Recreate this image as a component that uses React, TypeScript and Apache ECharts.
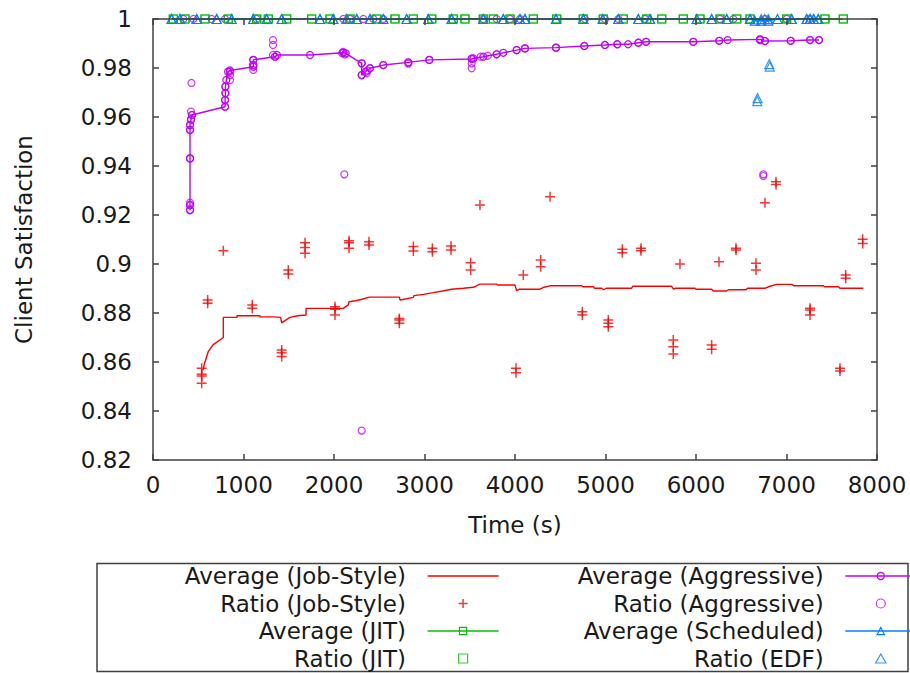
import React, { useEffect, useRef } from 'react';
import * as echarts from 'echarts';

const RED = '#ff0000';
const GREEN = '#00c000';
const PURPLE = '#c000ff';
const BLUE = '#0080ff';
const AXIS = '#404040';
const TEXT = '#1a1a1a';
const FONT = 'DejaVu Sans';
const FS = 23;

const X_MIN = 0;
const X_MAX = 8000;
const X_STEP = 1000;
const Y_MIN = 0.82;
const Y_MAX = 1;
const Y_STEP = 0.02;

const X_NAME = 'Time (s)';
const Y_NAME = 'Client Satisfaction';

const SERIES_NAMES = [
  'Average (Job-Style)',
  'Ratio (Job-Style)',
  'Average (JIT)',
  'Ratio (JIT)',
  'Average (Aggressive)',
  'Ratio (Aggressive)',
  'Average (Scheduled)',
  'Ratio (EDF)',
];

const avgJobStyle: [number, number][] = [
  [552, 0.8567], [570, 0.8595], [610, 0.8642], [663, 0.867], [777, 0.87], [777, 0.8782],
  [928, 0.8782], [928, 0.8789], [1182, 0.8789], [1182, 0.8784], [1330, 0.8784], [1330, 0.8782],
  [1410, 0.8782], [1422, 0.876], [1450, 0.8767], [1514, 0.8782], [1600, 0.8789], [1691, 0.8792],
  [1691, 0.8819], [2103, 0.8819], [2158, 0.8833], [2166, 0.8846], [2240, 0.885], [2320, 0.8857],
  [2391, 0.8865], [2722, 0.8865], [2730, 0.8853], [2790, 0.8857], [2877, 0.8864], [2884, 0.8871],
  [2990, 0.8876], [3097, 0.8883], [3200, 0.889], [3300, 0.8897], [3430, 0.8901], [3540, 0.8905],
  [3613, 0.8918], [3797, 0.8918], [3810, 0.8914], [4000, 0.8914], [4018, 0.8891], [4050, 0.8897],
  [4276, 0.8897], [4310, 0.8904], [4387, 0.8911], [4737, 0.8911], [4750, 0.8907], [4865, 0.8907],
  [4880, 0.8901], [4957, 0.8901], [4980, 0.8895], [5010, 0.8901], [5289, 0.8901], [5300, 0.8909],
  [5731, 0.8909], [5750, 0.8898], [5775, 0.8901], [5989, 0.8901], [6000, 0.8897], [6173, 0.8897],
  [6190, 0.889], [6339, 0.889], [6360, 0.8895], [6553, 0.8895], [6570, 0.8901], [6762, 0.8901],
  [6800, 0.8907], [6891, 0.8917], [7060, 0.8917], [7080, 0.8911], [7407, 0.8911], [7420, 0.8907],
  [7575, 0.8907], [7590, 0.8901], [7849, 0.8901],
];

const ratioJobStyle: [number, number][] = [
  [538, 0.8574], [538, 0.855], [538, 0.8543], [538, 0.8513],
  [604, 0.8853], [604, 0.884],
  [777, 0.9054],
  [1097, 0.8833], [1097, 0.8819],
  [1422, 0.8649], [1422, 0.8638], [1422, 0.8622],
  [1495, 0.8976], [1495, 0.8959],
  [1680, 0.9087], [1680, 0.9067], [1680, 0.9044],
  [2011, 0.8826], [2011, 0.8815], [2011, 0.8792],
  [2166, 0.9095], [2166, 0.9087], [2166, 0.9064],
  [2387, 0.9091], [2387, 0.9078],
  [2722, 0.8778], [2722, 0.8771], [2722, 0.8758],
  [2877, 0.9071], [2877, 0.9053],
  [3087, 0.9064], [3087, 0.905],
  [3293, 0.9073], [3293, 0.9057],
  [3510, 0.9005], [3510, 0.8976],
  [3613, 0.9241],
  [4011, 0.8574], [4011, 0.8556],
  [4092, 0.8955],
  [4387, 0.9275],
  [4284, 0.9016], [4284, 0.8989],
  [4744, 0.8805], [4744, 0.8792],
  [5031, 0.8771], [5031, 0.8758], [5031, 0.8744],
  [5186, 0.906], [5186, 0.9046],
  [5392, 0.9064], [5392, 0.9054],
  [5749, 0.869], [5749, 0.8662], [5749, 0.8633],
  [5823, 0.9],
  [6173, 0.8669], [6173, 0.8652],
  [6254, 0.9009],
  [6442, 0.9064], [6442, 0.9057],
  [6663, 0.9003], [6663, 0.8976],
  [6762, 0.925],
  [6884, 0.9336], [6884, 0.9325],
  [7260, 0.8819], [7260, 0.8812], [7260, 0.8792],
  [7591, 0.8574], [7591, 0.8563],
  [7654, 0.8955], [7654, 0.8942],
  [7842, 0.9101], [7842, 0.9084],
];

const avgJIT: [number, number][] = [
  [225, 1], [354, 1], [575, 1], [832, 1], [1146, 1], [1274, 1], [1477, 1], [1753, 1], [1956, 1],
  [2177, 1], [2472, 1], [2674, 1], [2877, 1], [3080, 1], [3318, 1], [3447, 1], [3650, 1], [3761, 1],
  [3945, 1], [4203, 1], [4461, 1], [4755, 1], [4976, 1], [5197, 1], [5455, 1], [5621, 1], [5860, 1],
  [6044, 1], [6265, 1], [6450, 1], [6597, 1], [7002, 1], [7425, 1], [7628, 1],
];

const ratioJIT: [number, number][] = [
  [225, 1], [354, 1], [575, 1], [832, 1], [1146, 1], [1274, 1], [1477, 1], [1753, 1], [1956, 1],
  [2177, 1], [2472, 1], [2674, 1], [2877, 1], [3080, 1], [3318, 1], [3447, 1], [3650, 1], [3761, 1],
  [3945, 1], [4203, 1], [4461, 1], [4755, 1], [4976, 1], [5197, 1], [5455, 1], [5621, 1], [5860, 1],
  [6044, 1], [6265, 1], [6450, 1], [6597, 1], [7002, 1], [7425, 1], [7628, 1],
];

const avgAggressive: [number, number][] = [
  [409, 0.922], [409, 0.9241], [409, 0.9431], [409, 0.9547], [409, 0.9567], [420, 0.959], [430, 0.9608],
  [796, 0.9642], [796, 0.9669], [800, 0.9697], [800, 0.9724], [810, 0.9751], [830, 0.9785], [851, 0.979],
  [1108, 0.9805], [1108, 0.9812], [1108, 0.9833], [1348, 0.9846], [1370, 0.9853], [1735, 0.9853],
  [2103, 0.9862], [2130, 0.986], [2306, 0.9819], [2306, 0.9771], [2350, 0.9785], [2398, 0.9799],
  [2545, 0.9812], [2821, 0.9823], [3053, 0.9833], [3521, 0.9837], [3540, 0.9839], [3650, 0.9846],
  [3797, 0.9856], [3870, 0.9862], [4018, 0.9873], [4110, 0.988], [4453, 0.9883], [4766, 0.989],
  [4994, 0.9894], [5130, 0.9897], [5250, 0.9897], [5363, 0.9903], [5448, 0.9907], [5970, 0.9907],
  [6257, 0.9911], [6350, 0.9914], [6707, 0.9917], [6762, 0.991], [7046, 0.9911], [7260, 0.9914],
  [7359, 0.9914],
];

const ratioAggressive: [number, number][] = [
  [409, 0.922], [409, 0.9241], [409, 0.925], [409, 0.9431], [409, 0.9547], [409, 0.9567], [420, 0.959],
  [430, 0.9608], [420, 0.9622], [425, 0.9739],
  [796, 0.9642], [796, 0.9669], [800, 0.9697], [800, 0.9724], [851, 0.9751], [851, 0.9771], [851, 0.9785],
  [1108, 0.9792], [1108, 0.9812], [1108, 0.9833], [1326, 0.9914], [1326, 0.9894], [1326, 0.9853],
  [1348, 0.9846], [2090, 0.986], [2100, 0.9866], [2120, 0.9855], [2114, 0.9366],
  [2306, 0.9819], [2306, 0.9771], [2306, 0.832], [2360, 0.9779], [2370, 0.979], [2398, 0.9799],
  [2545, 0.9812], [2821, 0.9823], [2821, 0.9818], [3053, 0.9833], [3521, 0.9839], [3521, 0.9819],
  [3521, 0.9799], [3620, 0.9846], [3700, 0.985], [3797, 0.9856], [4018, 0.9873], [4110, 0.988],
  [4453, 0.9883], [4766, 0.989], [4994, 0.9894], [5130, 0.9897], [5363, 0.9903], [5448, 0.9907],
  [5970, 0.9907], [6257, 0.9911], [6707, 0.9917], [6707, 0.9913], [6744, 0.9359], [6744, 0.9366],
  [6762, 0.991], [7046, 0.9911], [7260, 0.9914], [7359, 0.9914],
  [335, 1], [446, 1], [648, 1], [796, 1], [1146, 1], [2103, 1], [2177, 1], [2324, 1], [2435, 1],
  [2545, 1], [3650, 1], [3797, 1], [3945, 1], [4055, 1], [4773, 1], [4994, 1], [5142, 1], [5436, 1],
  [6265, 1], [6413, 1], [6762, 1], [7002, 1], [7260, 1],
];

const avgScheduled: [number, number][] = [
  [206, 1], [298, 1], [483, 1], [704, 1], [869, 1], [1108, 1], [1256, 1], [1422, 1], [1845, 1],
  [1992, 1], [2140, 1], [2251, 1], [2398, 1], [2545, 1], [2803, 1], [3042, 1], [3300, 1], [3650, 1],
  [3871, 1], [4055, 1], [4110, 1], [4453, 1], [4755, 1], [4969, 1], [5142, 1], [5363, 1], [5492, 1],
  [6008, 1], [6173, 1], [6339, 1], [6597, 1], [6650, 0.9993], [6720, 0.9993], [6799, 0.9993],
  [6900, 1], [7057, 1], [7223, 1], [7260, 1], [7300, 1], [7351, 1],
];

const ratioEDF: [number, number][] = [
  [206, 1], [298, 1], [483, 1], [704, 1], [869, 1], [1108, 1], [1256, 1], [1422, 1], [1845, 1],
  [1992, 1], [2140, 1], [2251, 1], [2398, 1], [2545, 1], [2803, 1], [3042, 1], [3300, 1], [3650, 1],
  [3871, 1], [4055, 1], [4110, 1], [4453, 1], [4755, 1], [4969, 1], [5142, 1], [5363, 1], [5492, 1],
  [6008, 1], [6173, 1], [6339, 1], [6597, 1], [6720, 1], [6760, 1], [6799, 1], [7057, 1], [7223, 1],
  [7260, 1], [7300, 1], [7351, 1],
  [6677, 0.9665], [6680, 0.9677], [6810, 0.9816], [6815, 0.9806],
];

const PLUS = 'path://M5,0L5,10M0,5L10,5';
const LINE_ICON = 'path://M0,0L71,0L71,1.6L0,1.6Z';
const SQUARE_ICON = 'path://M0,0L7,0L7,7L0,7Z';
const CIRCLE_ICON = 'path://M0,3.5A3.5,3.5,0,1,1,7,3.5A3.5,3.5,0,1,1,0,3.5Z';
const TRIANGLE_ICON = 'path://M4,0L8,7L0,7Z';
const CLEAR = 'rgba(0,0,0,0)';

function hollow(c: string, w = 1.2) {
  return { color: CLEAR, borderColor: c, borderWidth: w };
}

export default function App() {
  const ref = useRef<HTMLDivElement>(null);

  useEffect(() => {
    document.body.style.margin = '0';
    const chart = echarts.init(ref.current!, null, { renderer: 'svg' });

    const legendText = {
      fontFamily: FONT,
      fontSize: FS,
      color: TEXT,
      padding: [0, 16.6, 0, 0],
    };
    const legendBase = {
      orient: 'vertical',
      align: 'right',
      top: 564.5,
      height: 140,
      padding: 0,
      itemWidth: 71,
      itemHeight: 9,
      itemGap: 4.5,
      selectedMode: false,
      symbolKeepAspect: true,
      textStyle: legendText,
    };

    const axisLineStyle = { color: AXIS, width: 1.5 };
    const tick = { show: true, inside: true, length: 6, lineStyle: { color: AXIS, width: 1.5 } };
    const labelStyle = { fontFamily: FONT, fontSize: FS, color: TEXT };

    const option: any = {
      animation: false,
      textStyle: { fontFamily: FONT },
      grid: { left: 153, right: 33, top: 19, bottom: 213, outerBoundsMode: 'none', containLabel: false },
      xAxis: [
        {
          type: 'value', min: X_MIN, max: X_MAX, interval: X_STEP, position: 'bottom', z: 10,
          name: X_NAME, nameLocation: 'middle', nameGap: 53.5,
          nameTextStyle: { fontFamily: FONT, fontSize: FS, color: TEXT },
          axisLine: { show: true, onZero: false, lineStyle: axisLineStyle },
          axisTick: tick,
          axisLabel: { ...labelStyle, margin: 13.5, formatter: (v: number) => String(v) },
          splitLine: { show: false },
        },
        {
          type: 'value', min: X_MIN, max: X_MAX, interval: X_STEP, position: 'top', z: 10,
          axisLine: { show: true, onZero: false, lineStyle: axisLineStyle },
          axisTick: tick,
          axisLabel: { show: false },
          splitLine: { show: false },
        },
      ],
      yAxis: [
        {
          type: 'value', min: Y_MIN, max: Y_MAX, interval: Y_STEP, position: 'left', z: 10,
          name: Y_NAME, nameLocation: 'middle', nameGap: 117.5,
          nameTextStyle: { fontFamily: FONT, fontSize: FS, color: TEXT },
          axisLine: { show: true, onZero: false, lineStyle: axisLineStyle },
          axisTick: tick,
          axisLabel: { ...labelStyle, margin: 21, formatter: (v: number) => String(Math.round(v * 100) / 100) },
          splitLine: { show: false },
        },
        {
          type: 'value', min: Y_MIN, max: Y_MAX, interval: Y_STEP, position: 'right', z: 10,
          axisLine: { show: true, onZero: false, lineStyle: axisLineStyle },
          axisTick: tick,
          axisLabel: { show: false },
          splitLine: { show: false },
        },
      ],
      legend: [
        {
          ...legendBase,
          right: 410.7,
          data: [
            { name: SERIES_NAMES[0], icon: LINE_ICON, itemStyle: { color: RED, borderWidth: 0 } },
            { name: SERIES_NAMES[1], icon: PLUS, itemStyle: hollow(RED, 1.5) },
            { name: SERIES_NAMES[2], itemStyle: hollow(GREEN), lineStyle: { color: GREEN, width: 1.4 } },
            { name: SERIES_NAMES[3], icon: SQUARE_ICON, itemStyle: hollow(GREEN) },
          ],
        },
        {
          ...legendBase,
          right: -7,
          data: [
            { name: SERIES_NAMES[4], itemStyle: hollow(PURPLE), lineStyle: { color: PURPLE, width: 1.4 } },
            { name: SERIES_NAMES[5], icon: CIRCLE_ICON, itemStyle: hollow(PURPLE) },
            { name: SERIES_NAMES[6], itemStyle: hollow(BLUE), lineStyle: { color: BLUE, width: 1.4 } },
            { name: SERIES_NAMES[7], icon: TRIANGLE_ICON, itemStyle: hollow(BLUE) },
          ],
        },
      ],
      graphic: [
        {
          type: 'rect',
          shape: { x: 97, y: 563.5, width: 811, height: 108 },
          style: { fill: 'none', stroke: AXIS, lineWidth: 1.5 },
          silent: true,
        },
      ],
      series: [
        {
          name: SERIES_NAMES[0], type: 'line', data: avgJobStyle, symbol: 'none', showSymbol: false,
          lineStyle: { color: RED, width: 1.4 }, itemStyle: { color: RED }, clip: false,
        },
        {
          name: SERIES_NAMES[1], type: 'scatter', data: ratioJobStyle, symbol: PLUS, symbolSize: 10,
          itemStyle: hollow(RED, 1.5), clip: false,
        },
        {
          name: SERIES_NAMES[2], type: 'line', data: avgJIT, symbol: 'rect', symbolSize: 8,
          showSymbol: true, showAllSymbol: true,
          lineStyle: { color: GREEN, width: 1.4 }, itemStyle: hollow(GREEN), clip: false,
        },
        {
          name: SERIES_NAMES[3], type: 'scatter', data: ratioJIT, symbol: 'rect', symbolSize: 8,
          itemStyle: hollow(GREEN), clip: false,
        },
        {
          name: SERIES_NAMES[4], type: 'line', data: avgAggressive, symbol: 'circle', symbolSize: 7,
          showSymbol: true, showAllSymbol: true,
          lineStyle: { color: PURPLE, width: 1.4 }, itemStyle: hollow(PURPLE), clip: false,
        },
        {
          name: SERIES_NAMES[5], type: 'scatter', data: ratioAggressive, symbol: 'circle', symbolSize: 7,
          itemStyle: hollow(PURPLE), clip: false,
        },
        {
          name: SERIES_NAMES[6], type: 'line', data: avgScheduled, symbol: 'triangle', symbolSize: 9,
          showSymbol: true, showAllSymbol: true,
          lineStyle: { color: BLUE, width: 1.4 }, itemStyle: hollow(BLUE), clip: false,
        },
        {
          name: SERIES_NAMES[7], type: 'scatter', data: ratioEDF, symbol: 'triangle', symbolSize: 9,
          itemStyle: hollow(BLUE), clip: false,
        },
      ],
    };

    chart.setOption(option);
    return () => chart.dispose();
  }, []);

  return <div ref={ref} style={{ width: 910, height: 673 }} />;
}
